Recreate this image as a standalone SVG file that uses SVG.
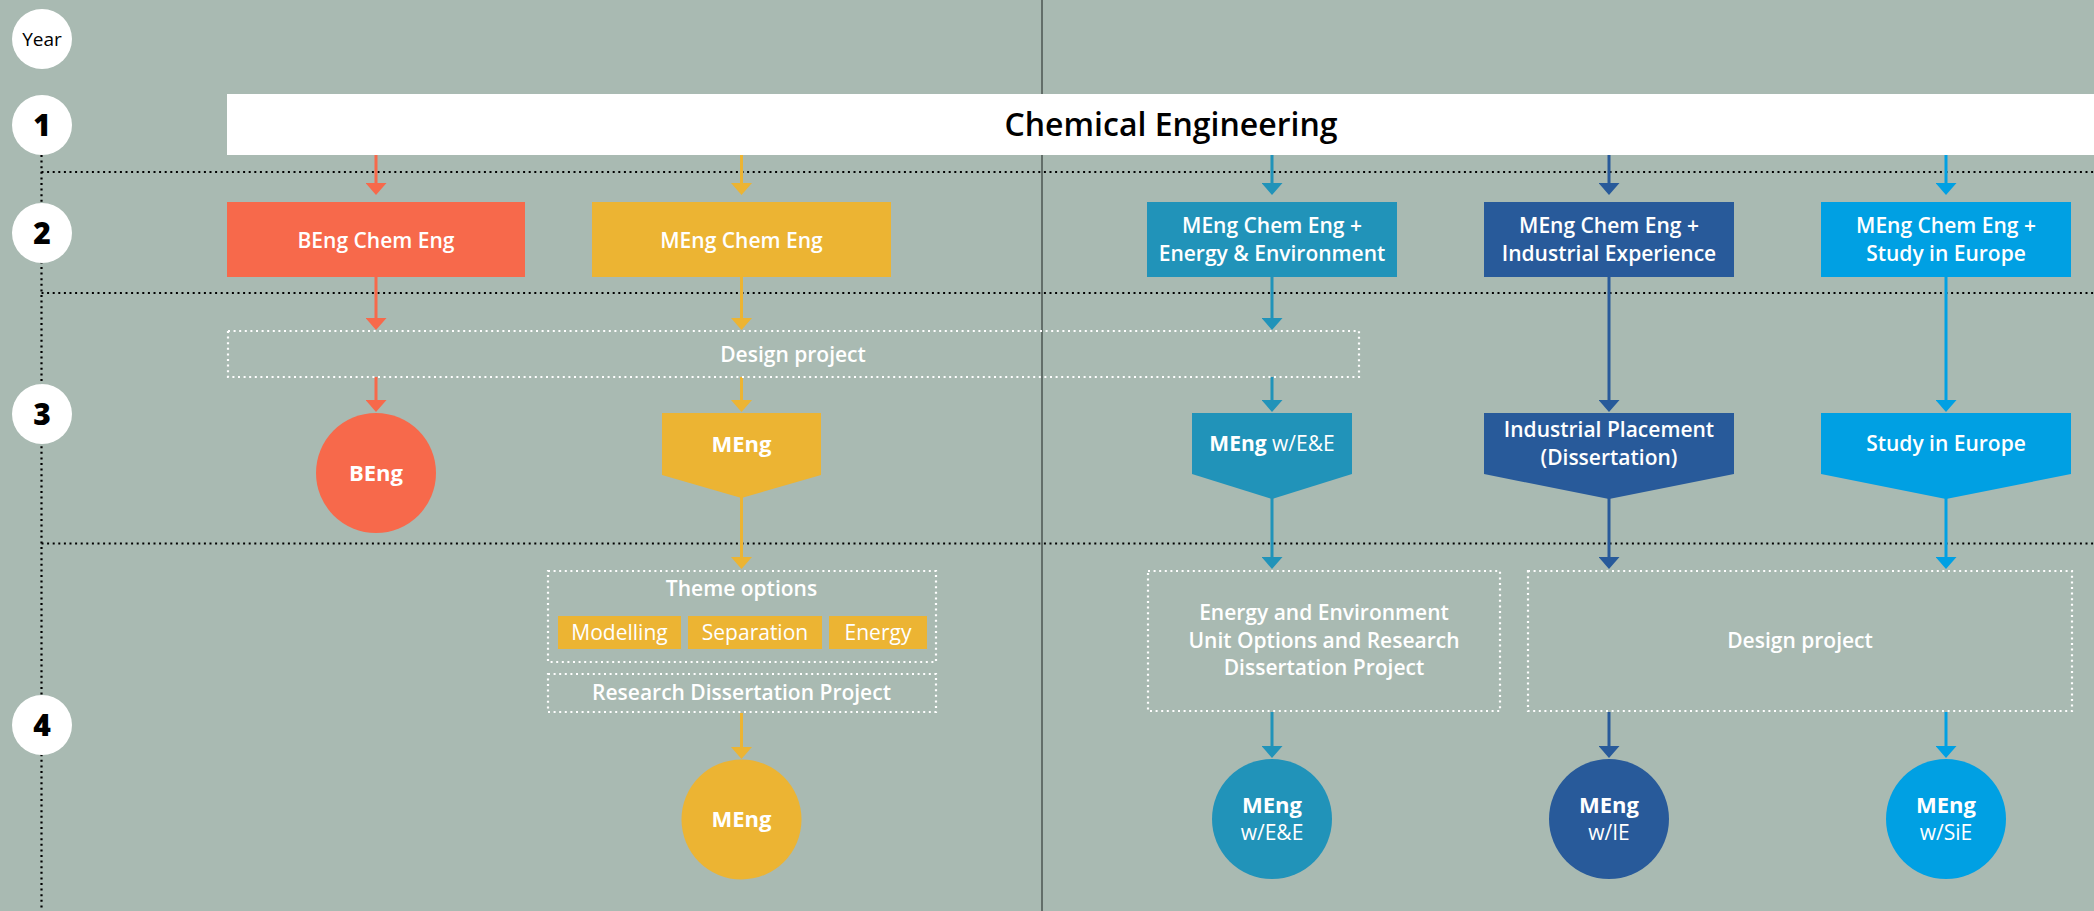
<svg xmlns="http://www.w3.org/2000/svg" width="2094" height="911" viewBox="0 0 2094 911">
<style>
.t{font-family:"Open Sans","Liberation Sans",sans-serif;fill:#fff;text-anchor:middle}
.lbl{font-size:21px;font-weight:600}
.reg{font-size:21px;font-weight:600}
.chip{font-size:21px;font-weight:400}
.big{font-size:22px;font-weight:700}
.num{font-family:"Open Sans","Liberation Sans",sans-serif;font-size:30px;font-weight:800;fill:#000;text-anchor:middle}
.blk{stroke:#000;stroke-width:2.2;stroke-dasharray:2 3.6;fill:none}
.wdot{stroke:#fff;stroke-width:2.2;stroke-dasharray:2 3.6;fill:none}
.c1{stroke:#f7694b}.c2{stroke:#ecb433}.c3{stroke:#2193b9}.c4{stroke:#285a9a}.c5{stroke:#00a0e3}
.ln{stroke-width:3;fill:none}
</style>
<defs>
<marker id="a1" viewBox="0 0 12 21" refX="6" refY="10.5" markerWidth="12" markerHeight="21" markerUnits="userSpaceOnUse" orient="auto"><path d="M0,0 L12,10.5 L0,21 z" fill="#f7694b"/></marker>
<marker id="a2" viewBox="0 0 12 21" refX="6" refY="10.5" markerWidth="12" markerHeight="21" markerUnits="userSpaceOnUse" orient="auto"><path d="M0,0 L12,10.5 L0,21 z" fill="#ecb433"/></marker>
<marker id="a3" viewBox="0 0 12 21" refX="6" refY="10.5" markerWidth="12" markerHeight="21" markerUnits="userSpaceOnUse" orient="auto"><path d="M0,0 L12,10.5 L0,21 z" fill="#2193b9"/></marker>
<marker id="a4" viewBox="0 0 12 21" refX="6" refY="10.5" markerWidth="12" markerHeight="21" markerUnits="userSpaceOnUse" orient="auto"><path d="M0,0 L12,10.5 L0,21 z" fill="#285a9a"/></marker>
<marker id="a5" viewBox="0 0 12 21" refX="6" refY="10.5" markerWidth="12" markerHeight="21" markerUnits="userSpaceOnUse" orient="auto"><path d="M0,0 L12,10.5 L0,21 z" fill="#00a0e3"/></marker>
</defs>
<rect x="0" y="0" width="2094" height="911" fill="#a9bab2"/>

<g id="grid">
<line x1="1042" y1="0" x2="1042" y2="911" stroke="#5b6661" stroke-width="1.8"/>
<line class="blk" x1="41.5" y1="155" x2="41.5" y2="911"/>
<line class="blk" x1="41.5" y1="172" x2="2094" y2="172"/>
<line class="blk" x1="41.5" y1="293" x2="2094" y2="293"/>
<line class="blk" x1="41.5" y1="543.5" x2="2094" y2="543.5"/>
</g>

<g id="years">
<circle cx="42" cy="39" r="30" fill="#fff"/>
<text x="42" y="45.5" font-family="Open Sans, Liberation Sans, sans-serif" font-size="19" fill="#000" text-anchor="middle">Year</text>
<circle cx="42" cy="125" r="30" fill="#fff"/><text class="num" x="42" y="136">1</text>
<circle cx="42" cy="233" r="30" fill="#fff"/><text class="num" x="42" y="244">2</text>
<circle cx="42" cy="414" r="30" fill="#fff"/><text class="num" x="42" y="425">3</text>
<circle cx="42" cy="725" r="30" fill="#fff"/><text class="num" x="42" y="736">4</text>
</g>

<g id="chem-eng">
<rect x="227" y="94" width="1867" height="61" fill="#fff"/>
<text x="1171" y="136" font-family="Open Sans, Liberation Sans, sans-serif" font-size="32" font-weight="600" fill="#000" text-anchor="middle">Chemical Engineering</text>
</g>

<g id="connectors">
<line class="ln c1" x1="376" y1="155" x2="376" y2="189" marker-end="url(#a1)"/>
<line class="ln c1" x1="376" y1="277" x2="376" y2="324" marker-end="url(#a1)"/>
<line class="ln c1" x1="376" y1="377" x2="376" y2="406" marker-end="url(#a1)"/>

<line class="ln c2" x1="741.5" y1="155" x2="741.5" y2="189" marker-end="url(#a2)"/>
<line class="ln c2" x1="741.5" y1="277" x2="741.5" y2="324" marker-end="url(#a2)"/>
<line class="ln c2" x1="741.5" y1="377" x2="741.5" y2="406" marker-end="url(#a2)"/>
<line class="ln c2" x1="741.5" y1="497" x2="741.5" y2="563" marker-end="url(#a2)"/>
<line class="ln c2" x1="741.5" y1="713" x2="741.5" y2="753" marker-end="url(#a2)"/>

<line class="ln c3" x1="1272" y1="155" x2="1272" y2="189" marker-end="url(#a3)"/>
<line class="ln c3" x1="1272" y1="277" x2="1272" y2="324" marker-end="url(#a3)"/>
<line class="ln c3" x1="1272" y1="377" x2="1272" y2="406" marker-end="url(#a3)"/>
<line class="ln c3" x1="1272" y1="498" x2="1272" y2="563" marker-end="url(#a3)"/>
<line class="ln c3" x1="1272" y1="712" x2="1272" y2="752" marker-end="url(#a3)"/>

<line class="ln c4" x1="1609" y1="155" x2="1609" y2="189" marker-end="url(#a4)"/>
<line class="ln c4" x1="1609" y1="277" x2="1609" y2="406" marker-end="url(#a4)"/>
<line class="ln c4" x1="1609" y1="498" x2="1609" y2="563" marker-end="url(#a4)"/>
<line class="ln c4" x1="1609" y1="712" x2="1609" y2="752" marker-end="url(#a4)"/>

<line class="ln c5" x1="1946" y1="155" x2="1946" y2="189" marker-end="url(#a5)"/>
<line class="ln c5" x1="1946" y1="277" x2="1946" y2="406" marker-end="url(#a5)"/>
<line class="ln c5" x1="1946" y1="498" x2="1946" y2="563" marker-end="url(#a5)"/>
<line class="ln c5" x1="1946" y1="712" x2="1946" y2="752" marker-end="url(#a5)"/>
</g>

<g id="beng-chem-eng">
<rect x="227" y="202" width="298" height="75" fill="#f7694b"/>
<text class="t lbl" x="376" y="248">BEng Chem Eng</text>
</g>
<g id="meng-chem-eng">
<rect x="592" y="202" width="299" height="75" fill="#ecb433"/>
<text class="t lbl" x="741.5" y="248">MEng Chem Eng</text>
</g>
<g id="meng-ee">
<rect x="1147" y="202" width="250" height="75" fill="#2193b9"/>
<text class="t lbl" x="1272" y="233">MEng Chem Eng +</text>
<text class="t lbl" x="1272" y="261">Energy &amp; Environment</text>
</g>
<g id="meng-ie">
<rect x="1484" y="202" width="250" height="75" fill="#285a9a"/>
<text class="t lbl" x="1609" y="233">MEng Chem Eng +</text>
<text class="t lbl" x="1609" y="261">Industrial Experience</text>
</g>
<g id="meng-sie">
<rect x="1821" y="202" width="250" height="75" fill="#00a0e3"/>
<text class="t lbl" x="1946" y="233">MEng Chem Eng +</text>
<text class="t lbl" x="1946" y="261">Study in Europe</text>
</g>

<g id="design-project-3">
<rect class="wdot" x="228" y="331" width="1131" height="46"/>
<text class="t reg" x="793" y="362">Design project</text>
</g>

<g id="beng-award">
<circle cx="376" cy="473" r="60" fill="#f7694b"/>
<text class="t big" x="376" y="481">BEng</text>
</g>
<g id="meng-3">
<polygon points="662,413 821,413 821,475 741.5,498 662,475" fill="#ecb433"/>
<text class="t big" x="741.5" y="452">MEng</text>
</g>
<g id="meng-ee-3">
<polygon points="1192,413 1352,413 1352,474 1272,499 1192,474" fill="#2193b9"/>
<text class="t" x="1272" y="451" font-size="21"><tspan font-weight="700">MEng</tspan><tspan font-weight="400"> w/E&amp;E</tspan></text>
</g>
<g id="industrial-placement">
<polygon points="1484,413 1734,413 1734,474 1609,499 1484,474" fill="#285a9a"/>
<text class="t lbl" x="1609" y="437">Industrial Placement</text>
<text class="t lbl" x="1609" y="465">(Dissertation)</text>
</g>
<g id="study-europe">
<polygon points="1821,413 2071,413 2071,474 1946,499 1821,474" fill="#00a0e3"/>
<text class="t lbl" x="1946" y="451">Study in Europe</text>
</g>

<g id="theme-options">
<rect class="wdot" x="548" y="571" width="388" height="91"/>
<text class="t reg" x="741.5" y="596">Theme options</text>
<rect x="558" y="616" width="123" height="33" fill="#ecb433"/>
<rect x="688" y="616" width="134" height="33" fill="#ecb433"/>
<rect x="829" y="616" width="98" height="33" fill="#ecb433"/>
<text class="t chip" x="619.5" y="640">Modelling</text>
<text class="t chip" x="755" y="640">Separation</text>
<text class="t chip" x="878" y="640">Energy</text>
</g>
<g id="research-dissertation">
<rect class="wdot" x="548" y="674" width="388" height="38"/>
<text class="t reg" x="741.5" y="700">Research Dissertation Project</text>
</g>
<g id="ee-options">
<rect class="wdot" x="1148" y="571" width="352" height="140"/>
<text class="t reg" x="1324" y="620">Energy and Environment</text>
<text class="t reg" x="1324" y="648">Unit Options and Research</text>
<text class="t reg" x="1324" y="675">Dissertation Project</text>
</g>
<g id="design-project-4">
<rect class="wdot" x="1528" y="571" width="544" height="140"/>
<text class="t reg" x="1800" y="648">Design project</text>
</g>

<g id="meng-award">
<circle cx="741.5" cy="819.5" r="60" fill="#ecb433"/>
<text class="t big" x="741.5" y="827">MEng</text>
</g>
<g id="meng-ee-award">
<circle cx="1272" cy="819" r="60" fill="#2193b9"/>
<text class="t big" x="1272" y="813">MEng</text>
<text class="t chip" x="1272" y="840">w/E&amp;E</text>
</g>
<g id="meng-ie-award">
<circle cx="1609" cy="819" r="60" fill="#285a9a"/>
<text class="t big" x="1609" y="813">MEng</text>
<text class="t chip" x="1609" y="840">w/IE</text>
</g>
<g id="meng-sie-award">
<circle cx="1946" cy="819" r="60" fill="#00a0e3"/>
<text class="t big" x="1946" y="813">MEng</text>
<text class="t chip" x="1946" y="840">w/SiE</text>
</g>
</svg>
